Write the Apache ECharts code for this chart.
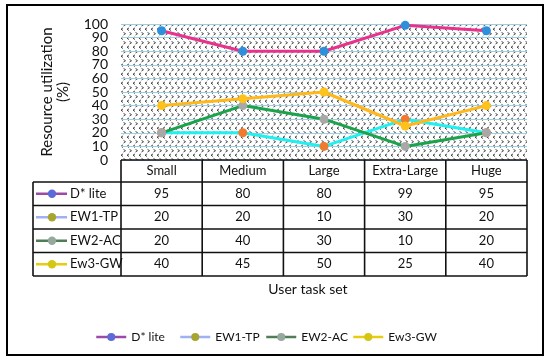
<!DOCTYPE html>
<html><head><meta charset="utf-8">
<script src="https://cdn.jsdelivr.net/npm/echarts@6/dist/echarts.min.js"></script>
<style>html,body{margin:0;padding:0;background:#fff}#c{width:550px;height:362px}</style>
</head><body><div id="c"></div>
<script>
const categories = ['Small', 'Medium', 'Large', 'Extra-Large', 'Huge'];
const seriesNames = ['D* lite', 'EW1-TP', 'EW2-AC', 'Ew3-GW'];
const dLite = [95, 80, 80, 99, 95];
const ew1tp = [20, 20, 10, 30, 20];
const ew2ac = [20, 40, 30, 10, 20];
const ew3gw = [40, 45, 50, 25, 40];
const seriesValues = [dLite, ew1tp, ew2ac, ew3gw];
const yTickLabels = [0, 10, 20, 30, 40, 50, 60, 70, 80, 90, 100];

const lineColors = ['#E8328C', '#22F0F0', '#1BA34C', '#FFB81C'];
const markerColors = ['#2E90DA', '#F07A2E', '#A8A8A8', '#FFC21A'];
const keyLine = ['#9B4AA6', '#9FB0F4', '#4F7D55', '#E8CC10'];
const keyMarker = ['#5B6CD8', '#A7A52E', '#97A89E', '#D6C614'];

const FONT = 'Lato';
const FS = 13;
const G = { left: 121, right: 527, top: 24, bottom: 160 };
const rowsY = [160, 182, 205.5, 229, 252.5, 276];
const tableLeft = 33;
const legendLefts = [90, 174, 260, 347];

function makePattern() {
  const c = document.createElement('canvas'); c.width = 12; c.height = 9;
  const g = c.getContext('2d');
  g.fillStyle = '#fff'; g.fillRect(0, 0, 12, 9);
  g.strokeStyle = '#333'; g.lineWidth = 0.9;
  function lt(x, y) { g.beginPath(); g.moveTo(x + 2, y - 1.3); g.lineTo(x, y); g.lineTo(x + 2, y + 1.3); g.stroke(); }
  function gt(x, y) { g.beginPath(); g.moveTo(x, y - 1.3); g.lineTo(x + 2, y); g.lineTo(x, y + 1.3); g.stroke(); }
  lt(1, 2.2); lt(7, 2.2); gt(3.5, 6.7); gt(9.5, 6.7);
  return c;
}

const chart = echarts.init(document.getElementById('c'));

const colW = (G.right - G.left) / categories.length;
const graphics = [];
const LW = 1.6, LC = '#111';
function hline(x1, x2, y) { graphics.push({ type: 'line', shape: { x1, y1: y, x2, y2: y }, style: { stroke: LC, lineWidth: LW }, z: 10 }); }
function vline(x, y1, y2) { graphics.push({ type: 'line', shape: { x1: x, y1, x2: x, y2 }, style: { stroke: LC, lineWidth: LW }, z: 10 }); }

graphics.push({ type: 'rect', shape: { x: 7, y: 5, width: 536, height: 350 }, style: { fill: null, stroke: '#000', lineWidth: 2 }, z: 10 });
hline(G.left, G.right, rowsY[0]);
for (let r = 1; r < rowsY.length; r++) hline(tableLeft, G.right, rowsY[r]);
for (let i = 0; i <= categories.length; i++) vline(G.left + i * colW, rowsY[0], rowsY[rowsY.length - 1]);
vline(tableLeft, rowsY[1], rowsY[rowsY.length - 1]);
seriesNames.forEach((name, s) => {
  const cy = (rowsY[s + 1] + rowsY[s + 2]) / 2;
  graphics.push({ type: 'line', shape: { x1: 36, y1: cy, x2: 67, y2: cy }, style: { stroke: keyLine[s], lineWidth: 2.5 }, z: 11 });
  graphics.push({ type: 'circle', shape: { cx: 52, cy, r: 4.2 }, style: { fill: keyMarker[s] }, z: 12 });
  graphics.push({ type: 'text', x: 70, y: cy, style: { text: name, font: FS + 'px ' + FONT, fill: '#111', verticalAlign: 'middle', align: 'left' }, z: 11 });
  seriesValues[s].forEach((v, i) => {
    graphics.push({ type: 'text', x: G.left + (i + 0.5) * colW, y: cy, style: { text: String(v), font: FS + 'px ' + FONT, fill: '#111', verticalAlign: 'middle', align: 'center' }, z: 11 });
  });
});
graphics.push({ type: 'text', x: 308, y: 289, style: { text: 'User task set', font: '14px ' + FONT, fill: '#111', verticalAlign: 'middle', align: 'center' }, z: 11 });

chart.setOption({
  animation: false,
  backgroundColor: '#fff',
  grid: { left: G.left, right: 550 - G.right, top: G.top, bottom: 362 - G.bottom, show: true, backgroundColor: { image: makePattern(), repeat: 'repeat' }, borderWidth: 0 },
  xAxis: {
    type: 'category', data: categories, boundaryGap: true,
    axisLine: { show: false }, axisTick: { show: false },
    axisLabel: { interval: 0, hideOverlap: false, fontSize: FS, fontFamily: FONT, color: '#111', margin: 11, verticalAlign: 'middle' }
  },
  yAxis: {
    type: 'value', min: yTickLabels[0], max: yTickLabels[yTickLabels.length - 1], interval: yTickLabels[1] - yTickLabels[0],
    axisLine: { show: false }, axisTick: { show: false },
    axisLabel: { show: false },
    splitLine: { lineStyle: { color: '#9CCFE4', width: 1.2 } },
    name: 'Resource utilization\n(%)', nameLocation: 'middle', nameGap: 50,
    nameTextStyle: { fontSize: 15, fontFamily: FONT, color: '#111', lineHeight: 16 }
  },
  legend: seriesNames.map((n, s) => ({
    left: legendLefts[s], top: 326, itemWidth: 30, itemHeight: 10,
    textStyle: { fontSize: 12, fontFamily: FONT, color: '#111' },
    data: [{ name: n, itemStyle: { color: keyMarker[s] }, lineStyle: { color: keyLine[s], width: 2.5 } }]
  })),
  series: seriesNames.map((n, s) => ({
    name: n, type: 'line', data: seriesValues[s],
    symbol: 'circle', symbolSize: 9,
    lineStyle: { color: lineColors[s], width: 3 },
    itemStyle: { color: markerColors[s] }
  })),
  graphic: graphics
});

// y tick labels placed through the axis scale
const yLabelGraphics = yTickLabels.map(v => ({
  type: 'text', x: G.left - 13, y: chart.convertToPixel({ yAxisIndex: 0 }, v),
  style: { text: String(v), font: '14px ' + FONT, fill: '#111', align: 'right', verticalAlign: 'middle' }, z: 11
}));
chart.setOption({ graphic: graphics.concat(yLabelGraphics) });
</script></body></html>
